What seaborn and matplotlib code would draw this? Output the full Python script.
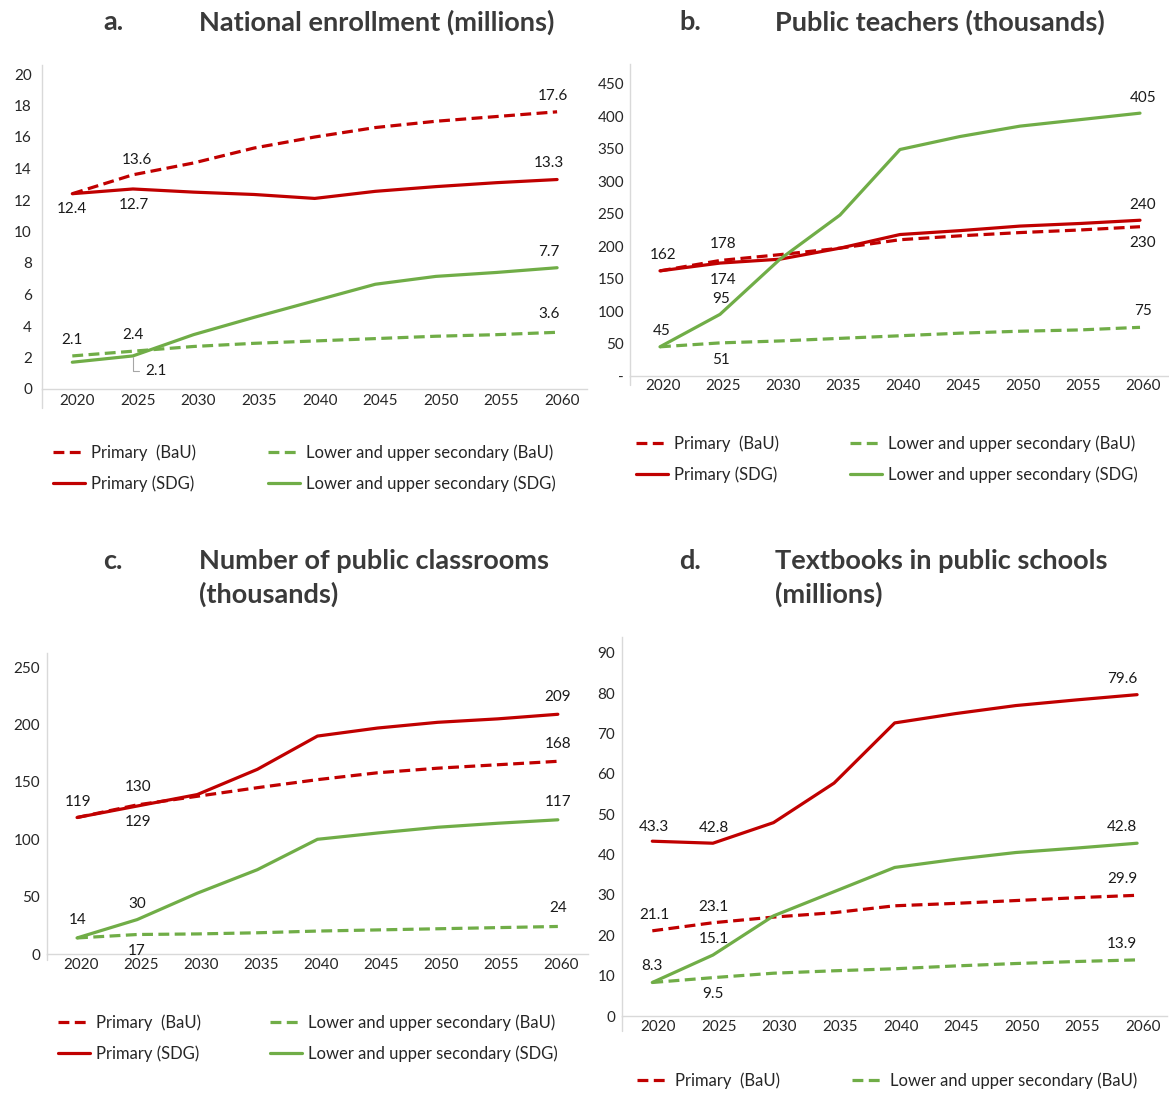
import matplotlib
matplotlib.use("Agg")
import matplotlib.pyplot as plt
import matplotlib.transforms as mtransforms
from matplotlib.lines import Line2D
import numpy as np
import pandas as pd
import seaborn as sns

# ---------------- data ----------------
years = [2020, 2025, 2030, 2035, 2040, 2045, 2050, 2055, 2060]

# a. National enrollment (millions)
enrol_primary_bau = [12.4, 13.6, 14.35, 15.3, 16.0, 16.6, 17.0, 17.3, 17.6]
enrol_primary_sdg = [12.4, 12.7, 12.5, 12.35, 12.1, 12.55, 12.85, 13.1, 13.3]
enrol_secondary_bau = [2.1, 2.4, 2.7, 2.9, 3.05, 3.2, 3.35, 3.45, 3.6]
enrol_secondary_sdg = [1.7, 2.1, 3.45, 4.55, 5.6, 6.65, 7.15, 7.4, 7.7]

# b. Public teachers (thousands)
teach_primary_bau = [162, 178, 187, 197, 210, 216, 221, 225, 230]
teach_primary_sdg = [162, 174, 180, 197, 218, 224, 231, 235, 240]
teach_secondary_bau = [45, 51, 54, 58, 62, 66, 69, 71, 75]
teach_secondary_sdg = [45, 95, 180, 248, 349, 369, 385, 395, 405]

# c. Number of public classrooms (thousands)
class_primary_bau = [119, 130, 137.5, 145, 152, 158, 162, 165, 168]
class_primary_sdg = [119, 129, 139, 161, 190, 197, 202, 205, 209]
class_secondary_bau = [14, 17, 17.5, 18.5, 20, 21, 22, 23, 24]
class_secondary_sdg = [14, 30, 53, 73.5, 100, 105.5, 110.5, 114, 117]

# d. Textbooks in public schools (millions)
text_primary_bau = [21.1, 23.1, 24.5, 25.6, 27.3, 27.9, 28.6, 29.3, 29.9]
text_primary_sdg = [43.3, 42.8, 47.9, 57.7, 72.6, 74.9, 76.9, 78.3, 79.6]
text_secondary_bau = [8.3, 9.5, 10.6, 11.2, 11.7, 12.4, 13.0, 13.5, 13.9]
text_secondary_sdg = [8.3, 15.1, 24.8, 30.8, 36.8, 38.8, 40.5, 41.6, 42.8]

series_names = ["Primary  (BaU)", "Primary (SDG)",
                "Lower and upper secondary (BaU)", "Lower and upper secondary (SDG)"]

titles = ["National enrollment (millions)", "Public teachers (thousands)",
          "Number of public classrooms\n(thousands)", "Textbooks in public schools\n(millions)"]
letters = ["a.", "b.", "c.", "d."]

a_yticks = [0, 2, 4, 6, 8, 10, 12, 14, 16, 18, 20]
b_yticks = [0, 50, 100, 150, 200, 250, 300, 350, 400, 450]
b_yticklabels = ["-", "50", "100", "150", "200", "250", "300", "350", "400", "450"]
c_yticks = [0, 50, 100, 150, 200, 250]
d_yticks = [0, 10, 20, 30, 40, 50, 60, 70, 80, 90]

# ---------------- style ----------------
RED = "#C00000"
GREEN = "#70AD47"
palette = {series_names[0]: RED, series_names[1]: RED,
           series_names[2]: GREEN, series_names[3]: GREEN}
DASH = (3.4, 1.7)
dashes = {series_names[0]: DASH, series_names[1]: "",
          series_names[2]: DASH, series_names[3]: ""}
LW = 2.3
AXIS_GREY = "#D9D9D9"
TXT = "#262626"
TITLE_C = "#3a3a3a"
TITLE_FS = 19.5
LEG_FS = 12

sns.set_style("white")
plt.rcParams["font.family"] = ["Lato", "DejaVu Sans"]

W, H = 1169, 1093
fig = plt.figure(figsize=(W / 100, H / 100), dpi=100)

# layout in pixels: spine_x, baseline_y, x spacing, ymax, px per unit, spine extension,
# ytick pad (pt), xtick pad (pt), xtick label shift (px)
layouts = [
    dict(sx=42, y0=389, sp=60.6, ymax=20.6, ppu=15.75, ext=19, ypad=7.2, xpad=3.6, xsh=5),
    dict(sx=630, y0=376, sp=60.0, ymax=480, ppu=0.649, ext=9, ypad=4.3, xpad=2.2, xsh=3.5),
    dict(sx=47, y0=954, sp=60.1, ymax=262, ppu=1.147, ext=6, ypad=5.0, xpad=3.0, xsh=3.6),
    dict(sx=622, y0=1016, sp=60.6, ymax=94, ppu=4.037, ext=15, ypad=5.0, xpad=3.0, xsh=6),
]

panel_data = [
    [enrol_primary_bau, enrol_primary_sdg, enrol_secondary_bau, enrol_secondary_sdg],
    [teach_primary_bau, teach_primary_sdg, teach_secondary_bau, teach_secondary_sdg],
    [class_primary_bau, class_primary_sdg, class_secondary_bau, class_secondary_sdg],
    [text_primary_bau, text_primary_sdg, text_secondary_bau, text_secondary_sdg],
]
panel_yticks = [a_yticks, b_yticks, c_yticks, d_yticks]
panel_yticklabels = [[str(v) for v in a_yticks], b_yticklabels,
                     [str(v) for v in c_yticks], [str(v) for v in d_yticks]]
fmts = ["{:.1f}", "{:.0f}", "{:.0f}", "{:.1f}"]

# data label placement: (series index, year index, dx px, dy px)  [0=P BaU,1=P SDG,2=S BaU,3=S SDG]
label_specs = [
    [(1, 0, 0, -15), (1, 1, 1, -16), (0, 1, 4, 15), (0, 8, -4, 16), (1, 8, -8, 17),
     (3, 8, -8, 16), (2, 8, -8, 18), (2, 0, 0, 16), (2, 1, 0, 16)],
    [(1, 0, 3, 16), (0, 1, 3, 16), (1, 1, 3, -17), (3, 1, 1, 15), (3, 0, 2, 16),
     (2, 1, 1, -17), (3, 8, 3, 15), (1, 8, 3, 15), (0, 8, 3, -16), (2, 8, 3, 16)],
    [(1, 0, 1, 16), (0, 1, 1, 18), (1, 1, 1, -16), (3, 0, 1, 18), (3, 1, 0, 16),
     (2, 1, 0, -16), (1, 8, 0, 17), (0, 8, 0, 17), (3, 8, 0, 18), (2, 8, 0, 18)],
    [(1, 0, 2, 14), (1, 1, 1, 15), (0, 0, 2, 16), (0, 1, 1, 16), (3, 1, 1, 16),
     (3, 0, 0, 16), (2, 1, 0, -16), (1, 8, -15, 16), (3, 8, -15, 16), (0, 8, -15, 16),
     (2, 8, -15, 16)],
]

title_pos = [  # letter x, title x, letter y, title center y
    (113, 199, 22, 22), (690, 775, 22, 22), (113, 199, 561, 578), (690, 775, 561, 578)]
legend_pos = [  # col1 x, col2 x, row1 y, rows shown
    (53, 268, 453, 2), (636, 850, 444, 2), (58, 270, 1023, 2), (637, 852, 1081, 1)]
ROWGAP = 31

handles = [Line2D([], [], color=RED, lw=LW, dashes=DASH),
           Line2D([], [], color=RED, lw=LW),
           Line2D([], [], color=GREEN, lw=LW, dashes=DASH),
           Line2D([], [], color=GREEN, lw=LW)]

for i in range(4):
    L = layouts[i]
    width = 9 * L["sp"]
    height = L["ymax"] * L["ppu"]
    ax = fig.add_axes([L["sx"] / W, 1 - L["y0"] / H, width / W, height / H])

    vals = panel_data[i]
    df = pd.DataFrame({
        "year": years * 4,
        "value": sum([list(v) for v in vals], []),
        "series": sum([[n] * len(years) for n in series_names], []),
    })
    sns.lineplot(data=df, x="year", y="value", hue="series", style="series",
                 hue_order=series_names, style_order=series_names,
                 palette=palette, dashes=dashes, linewidth=LW, ax=ax,
                 legend=False, sort=False, errorbar=None)

    ax.set_xlim(2017.5, 2062.5)
    ax.set_ylim(0, L["ymax"])
    ax.set_xticks(years)
    ax.set_xticklabels([str(y) for y in years])
    ax.set_yticks(panel_yticks[i])
    ax.set_yticklabels(panel_yticklabels[i])
    ax.set_xlabel("")
    ax.set_ylabel("")
    for s in ["top", "right"]:
        ax.spines[s].set_visible(False)
    for s in ["left", "bottom"]:
        ax.spines[s].set_color(AXIS_GREY)
        ax.spines[s].set_linewidth(1.0)
    ax.plot([0, 0], [0, -L["ext"] / height], transform=ax.transAxes,
            color=AXIS_GREY, lw=1.0, clip_on=False)
    ax.tick_params(axis="both", length=0, labelsize=11, colors=TXT)
    ax.tick_params(axis="y", pad=L["ypad"])
    ax.tick_params(axis="x", pad=L["xpad"])
    shift = mtransforms.ScaledTranslation(L["xsh"] / 100, 0, fig.dpi_scale_trans)
    for lab in ax.get_xticklabels():
        lab.set_transform(lab.get_transform() + shift)

    for (si, yi, dx, dy) in label_specs[i]:
        v = vals[si][yi]
        ax.annotate(fmts[i].format(v), xy=(years[yi], v), xytext=(dx, dy),
                    textcoords="offset pixels", ha="center", va="center",
                    fontsize=11, color="#1a1a1a", annotation_clip=False)
    if i == 0:
        v = vals[3][1]
        ax.annotate(fmts[i].format(v), xy=(years[1], v), xytext=(23, -15),
                    textcoords="offset pixels", ha="center", va="center",
                    fontsize=11, color="#1a1a1a",
                    arrowprops=dict(arrowstyle="-", color="#A6A6A6", lw=0.8,
                                    connectionstyle="angle,angleA=0,angleB=90,rad=0",
                                    shrinkA=2, shrinkB=1))

    lx, tx, ly, ty = title_pos[i]
    fig.text(lx / W, 1 - ly / H, letters[i], ha="center", va="center",
             fontsize=TITLE_FS, fontweight="bold", color=TITLE_C)
    fig.text(tx / W, 1 - ty / H, titles[i], ha="left", va="center",
             fontsize=TITLE_FS, fontweight="bold", color=TITLE_C, linespacing=1.37)

    c1, c2, ry, nrows = legend_pos[i]
    ymid = 1 - (ry + ROWGAP * (nrows - 1) / 2) / H
    for cx, hs, ls in [(c1, handles[:2], series_names[:2]), (c2, handles[2:], series_names[2:])]:
        fig.legend(hs[:nrows], ls[:nrows], loc="center left", bbox_to_anchor=(cx / W, ymid),
                   frameon=False, fontsize=LEG_FS, handlelength=1.92, handletextpad=0.36,
                   labelspacing=0.86, borderpad=0, borderaxespad=0,
                   labelcolor=TXT)

fig.savefig("out.png", dpi=100)
